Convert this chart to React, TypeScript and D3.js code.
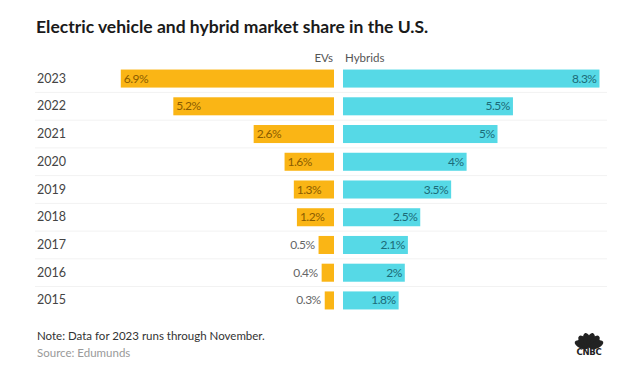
import * as d3 from "d3";

const years = ["2023", "2022", "2021", "2020", "2019", "2018", "2017", "2016", "2015"];
const evShare = [6.9, 5.2, 2.6, 1.6, 1.3, 1.2, 0.5, 0.4, 0.3];
const hybridShare = [8.3, 5.5, 5, 4, 3.5, 2.5, 2.1, 2, 1.8];
const evLabels = ["6.9%", "5.2%", "2.6%", "1.6%", "1.3%", "1.2%", "0.5%", "0.4%", "0.3%"];
const hybridLabels = ["8.3%", "5.5%", "5%", "4%", "3.5%", "2.5%", "2.1%", "2%", "1.8%"];

const W = 620;
const H = 368;
const FONT = "Lato, 'Open Sans', sans-serif";
const EV_COLOR = "#fab515";
const HY_COLOR = "#56d9e6";

export default function App() {
  const center = 334;
  const gap = 9;
  const pxPerPct = 30.9;

  // EVs grow to the left of the centre, hybrids to the right
  const xEv = d3.scaleLinear().domain([0, 1]).range([center, center - pxPerPct]);
  const xHy = d3.scaleLinear().domain([0, 1]).range([center + gap, center + gap + pxPerPct]);
  const y = d3.scaleBand().domain(years).range([64, 315]).paddingInner(0.35).paddingOuter(0.2);
  const bh = y.bandwidth();
  const step = y.step();

  return (
    <svg width={W} height={H} style={{ position: "absolute", left: 0, top: 0, background: "#fff" }} fontFamily={FONT}>
      <text x={36} y={33} fontSize={17.5} fontWeight={700} fill="#1a1a1a">
        Electric vehicle and hybrid market share in the U.S.
      </text>
      <text x={center - 1} y={62} fontSize={11.5} fill="#555" textAnchor="end">EVs</text>
      <text x={center + gap + 2} y={62} fontSize={11.5} fill="#555">Hybrids</text>

      {years.slice(0, -1).map((yr) => (
        <line key={`sep-${yr}`} x1={35} x2={607}
          y1={(y(yr) ?? 0) + bh + (step - bh) / 2} y2={(y(yr) ?? 0) + bh + (step - bh) / 2}
          stroke="#f2f2f2" strokeWidth={1} />
      ))}

      {years.map((yr, i) => {
        const top = y(yr) ?? 0;
        const mid = top + bh / 2 + 4;
        const ev = evShare[i];
        const hy = hybridShare[i];
        const evX = xEv(ev);
        const evW = center - evX;
        const inside = evW > 30;
        return (
          <g key={yr}>
            <text x={37} y={mid} fontSize={12.5} fill="#444">{yr}</text>
            <rect x={evX} y={top} width={evW} height={bh} fill={EV_COLOR} />
            {inside ? (
              <text x={evX + 3} y={mid} fontSize={12} fill="#8a5c00" letterSpacing={-0.5}>{evLabels[i]}</text>
            ) : (
              <text x={evX - 4} y={mid} fontSize={12} fill="#666" textAnchor="end" letterSpacing={-0.5}>{evLabels[i]}</text>
            )}
            <rect x={xHy(0)} y={top} width={xHy(hy) - xHy(0)} height={bh} fill={HY_COLOR} />
            <text x={xHy(hy) - 3} y={mid} fontSize={12} fill="#1b6b78" textAnchor="end" letterSpacing={-0.5}>{hybridLabels[i]}</text>
          </g>
        );
      })}

      <text x={37} y={340} fontSize={11.5} fill="#333">Note: Data for 2023 runs through November.</text>
      <text x={37} y={357} fontSize={11.5} fill="#999">Source: Edumunds</text>

      <g transform="translate(589,348)">
        {[-66, -40, -14, 14, 40, 66].map((a, k) => (
          <ellipse key={`f-${k}`} cx={0} cy={-8} rx={3.8} ry={7.5}
            transform={`rotate(${a})`} fill="#222" />
        ))}
        <text x={0} y={7} fontSize={8.5} fontWeight={900} textAnchor="middle" fill="#222"
          fontFamily="'DejaVu Sans', sans-serif" letterSpacing={-0.3}>CNBC</text>
      </g>
    </svg>
  );
}
